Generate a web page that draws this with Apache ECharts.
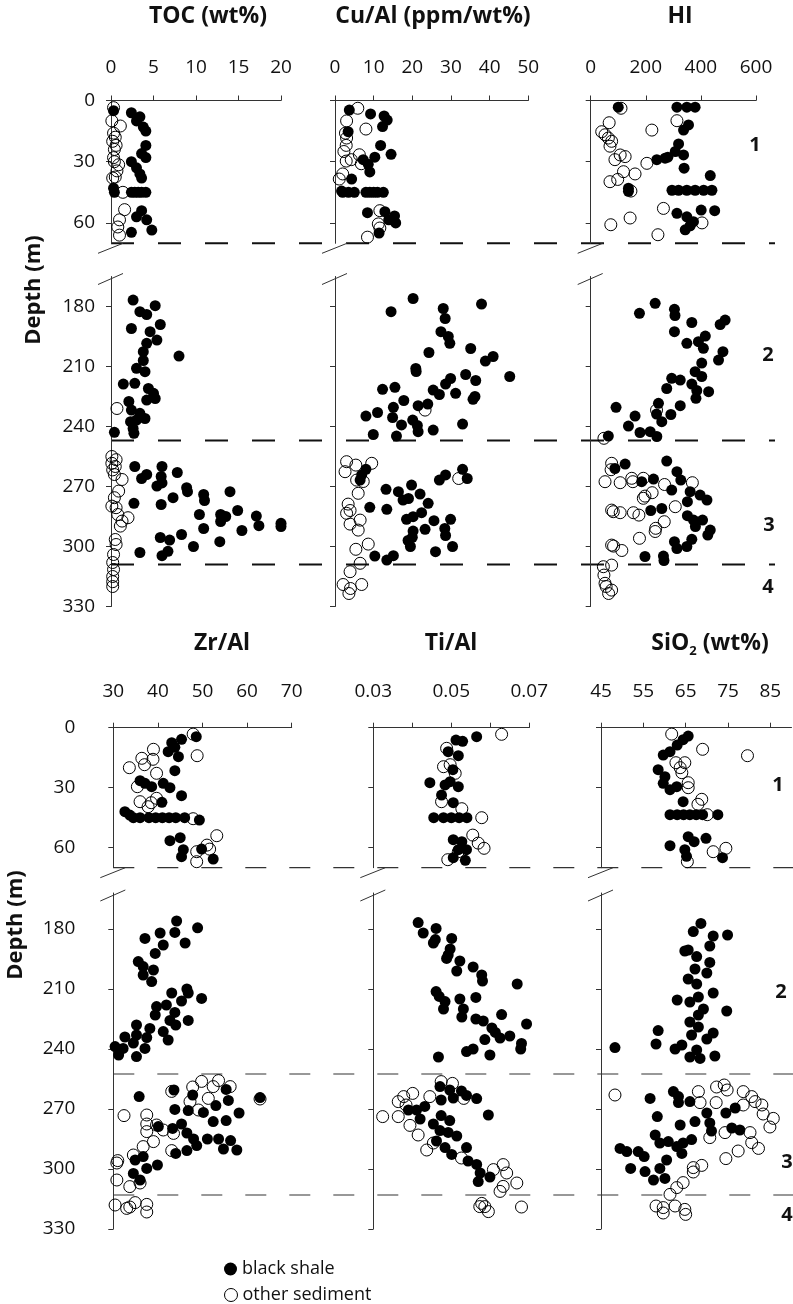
<!DOCTYPE html>
<html><head><meta charset="utf-8">
<script src="https://cdn.jsdelivr.net/npm/echarts@6/dist/echarts.min.js"></script>
<style>html,body{margin:0;padding:0;background:#fff}#c{width:793px;height:1304px}</style>
</head><body><div id="c"></div><script>
// ---------------- DATA: [value, depth (m)] ----------------
const tocShale = [[0.3,5],[2.4,6],[3.4,8],[3.0,10],[3.8,13],[4.1,15],[4.1,22],[3.6,26],[4.1,28],[2.4,30],[3.0,33],[3.4,36],[3.6,38],[0.3,43],[0.4,45],[2.4,45],[2.8,45],[3.2,45],[3.6,45],[4.1,45],[3.6,54],[3.0,57],[4.2,58.5],[4.8,63.5],[2.4,64.6],
[2.6,176.8],[5.2,179.6],[3.4,182.6],[4.2,184],[2.4,191],[5.8,189],[4.6,192.6],[5.4,196.8],[4.2,198.4],[3.8,202.6],[8.0,204.8],[3.8,207],[3.0,210.9],[4.0,212.6],[1.45,218.8],[2.8,218.4],[4.4,221],[5.0,223.4],[5.2,226],[4.2,226.8],[2.1,227.5],[2.4,231.8],[3.4,233.4],[3.0,236.8],[4.0,236],[2.3,237.6],[2.6,241],[2.7,243.4],[0.4,242.9],
[2.8,260],[3.6,266],[4.2,264],[6.0,260],[5.9,265],[6.0,268.2],[5.4,269.8],[7.8,263],[8.9,270.6],[9.0,272.6],[10.9,274],[11.0,277],[14.0,272.6],[7.3,275.6],[2.7,278.4],[5.9,279],[10.4,284],[12.9,284],[13.5,285],[14.9,282],[17.1,284.8],[17.4,289.6],[12.9,287.5],[20.0,288.4],[20.0,290],[15.4,292],[10.9,291],[12.8,297.6],[8.3,294],[5.8,295.5],[6.9,296.8],[9.7,300],[3.4,303],[6.0,304.6],[6.7,302.4]];
const tocOther = [[0.3,3.5],[0.1,10],[1.1,12.5],[0.3,16],[0.5,18],[0.2,20],[0.6,22],[0.4,24],[0.4,30],[0.9,31.5],[0.3,28],[0.7,34.5],[0.5,37.5],[0.2,38],[1.4,45],[1.6,53.5],[1.0,58.5],[0.8,62],[1.0,66],
[0.7,231],[0.1,255],[0.6,256.6],[0.1,258.4],[0.5,260],[0.2,261.7],[0.4,264],[1.3,266.5],[0.9,272.3],[0.4,275.6],[0.1,279.8],[0.6,280.6],[0.8,284],[2.0,285.6],[1.3,287.3],[1.1,289.8],[0.5,296.5],[0.6,299],[0.3,304],[0.2,308],[0.3,311.5],[0.2,315],[0.2,317.6],[0.2,320]];

const cuShale = [[3.7,4.7],[9.2,6.6],[12.7,7.6],[13.5,9.6],[12.3,12.8],[3.4,15.3],[11.8,22],[14.5,26.4],[7.3,29],[10.3,27.8],[8.6,31.3],[9.0,35],[4.3,38.5],[1.7,44.4],[2,45],[3.5,45],[5,45],[8,45],[9,45],[10,45],[11,45],[12.5,45],[8.4,55],[12.9,54.5],[15.4,56.6],[13.9,58.5],[15.7,60],[11.4,65],
[14.5,182.6],[20.2,176],[28.0,181],[37.9,178.8],[28.5,186],[27.4,192.6],[29.3,195],[29.7,198.4],[35.1,201],[24.3,203],[38.9,207.3],[40.9,205],[45.2,215],[20.9,211],[21,212.5],[33.8,214],[36.4,217],[29.9,216],[28.6,218.8],[25.4,221.8],[27.0,224],[31.2,223.4],[35.7,226.4],[36.2,225],[12.3,221.4],[15.5,220.4],[11.0,233],[8.0,234.8],[15.1,230.4],[14.9,235.5],[17.8,227],[21.5,229.6],[24.0,228.8],[17.2,239.2],[20.1,236.8],[21.3,239.5],[21.5,242.6],[25.4,241.8],[33.0,238.8],[9.9,244],[15.9,244.8],
[8.0,261.4],[6.9,264.2],[6.5,266.8],[13.2,271.4],[16.4,272.6],[17.6,276.8],[19.8,269.3],[22.0,273.8],[19.0,276],[24.1,278.4],[28.6,264.2],[27.0,266.8],[33.0,261.4],[34.2,266],[9.0,280.4],[13.4,281.4],[22.4,283.1],[20.2,285.1],[18.5,286.4],[25.6,287.1],[29.9,286.4],[23.3,291.4],[20.2,292.3],[28.4,291],[28.6,294.5],[18.9,297],[20.0,295.4],[19.5,300],[30.4,300],[26.0,302.6],[10.3,304.8],[13.4,306.8],[15.1,304.6]];
const cuOther = [[5.9,3.8],[3.0,10],[8.0,14],[2.7,16],[3.0,18.4],[2.9,22],[2.3,25],[6.3,26.6],[2.9,29.7],[4.2,29],[6.8,31],[2.0,36],[1.1,38.5],[11.6,54],[11.2,60.5],[11.6,62.5],[8.4,67],
[23.3,231.8],[3.0,257.6],[5.4,259.3],[9.5,258.4],[2.6,262.6],[5.6,266.8],[7.3,267.5],[6.0,273.4],[3.4,278.8],[3.0,283.4],[3.9,282],[6.5,286.8],[3.9,288.8],[6.0,291.8],[8.6,298.8],[5.4,301.4],[6.5,308.4],[3.9,312.6],[2.1,319],[6.9,319],[3.6,323.5],[4.0,321],[32.0,266]];

const hiShale = [[100,3.3],[313,3.3],[349,3.3],[379,3.3],[355,12],[337,14.5],[319,21.3],[307,25],[337,26.7],[270,28.3],[240,29],[280,27.8],[339,33.2],[434,36.8],[295,44],[319,44],[349,44],[379,44],[410,44],[440,44],[137,43],[137,44.5],[313,55.3],[349,57],[401,53.7],[450,54],[373,59.4],[343,63.4],[361,61.4],
[177,183.4],[234,178.4],[304,181.4],[306,184.5],[367,188],[488,186.8],[470,189],[304,192.6],[416,194.8],[391,197.6],[349,198.4],[409,200.9],[480,202.6],[464,206.8],[403,208.3],[379,212.6],[403,215],[294,215.9],[325,216.8],[367,218.8],[276,221],[385,222],[428,222.6],[382,225.9],[92,230.4],[246,228.4],[325,229.6],[161,234.8],[239,233.8],[291,234],[258,237.6],[137,239.8],[179,243],[216,242.6],[240,245],[64,244.8],
[125,258.8],[88,261],[276,257.3],[313,262.6],[327,266.8],[228,266.3],[185,267.6],[294,271.8],[361,272.6],[397,274.3],[422,276.8],[351,277.6],[218,282],[258,281],[351,284.6],[373,286.8],[406,286.8],[380,290],[434,291.8],[425,294.3],[367,296.4],[304,297.6],[313,301],[349,300],[197,305],[264,304.8],[266,307]];
const hiOther = [[110,3.8],[67,10.9],[313,9.9],[222,14.5],[40,15.3],[52,16.8],[64,18.4],[76,20],[70,22.4],[107,26.7],[125,27.5],[88,29],[204,30.8],[119,34.9],[161,36],[70,39.8],[98,38.7],[146,44.4],[264,52.9],[143,57.6],[73,60.9],[244,65.8],[404,60],
[48,245.9],[239,231.8],[76,258.4],[74,261.6],[52,267.6],[107,268.1],[149,265.9],[153,267.6],[191,265.9],[268,269],[369,268.1],[223,273.1],[191,275.9],[197,274.8],[307,280.1],[76,281.8],[82,282.6],[107,283.1],[155,283.1],[175,284.3],[267,287.6],[236,290.9],[234,292.5],[177,295.9],[76,299.3],[83,299.8],[113,302],[46,310.1],[76,309.3],[48,314.3],[52,318.4],[56,320],[76,321.8],[65,323.5]];

const zrShale = [[48.6,4.5],[45.3,5.8],[43.1,7.5],[43.8,9.8],[42.3,12],[44.6,14.5],[43.8,21.5],[36.0,26.5],[37.1,27.8],[38.6,29.5],[41.2,27.8],[42.7,30],[45.3,34],[40.9,37.3],[32.6,42],[33.7,43.7],[34.5,45],[36,45],[38,45],[39.5,45],[41,45],[42.5,45],[44,45],[46,45],[49.3,46.2],[42.7,56.5],[45.0,55],[45.7,61],[45.3,64.5],[49.8,60.7],[52.4,65.7],
[44.2,176],[48.9,179.4],[43.8,181.7],[40.5,182],[37.1,184.7],[46.1,187],[41.2,188],[39.4,192.2],[35.6,196.3],[36.7,198.8],[39.0,200.5],[36.7,203],[38.6,206.3],[43.1,212],[46.5,210],[49.8,214.7],[46.8,212],[39.7,218.8],[41.9,218],[45.3,216],[39.4,223],[43.8,221.7],[42.7,225.7],[46.8,225.7],[44.0,228],[35.2,228],[38.2,229.7],[41.2,231.3],[32.6,234],[35.2,233],[37.5,234.3],[42.3,235.5],[30.4,238.8],[32.2,239.7],[31.2,243],[34.5,237],[37.1,239.7],[35.2,243.8],
[35.8,263.8],[43.6,260.5],[47.8,263],[55.3,260.2],[55.8,265.7],[53.0,268.3],[62.9,264.3],[43.8,270.2],[46.8,270.8],[50.2,271.7],[52.4,276.3],[55.3,275.8],[58.2,272],[40.1,278.8],[43.3,279.7],[45.3,277.5],[46.5,282],[48.0,285],[48.7,288.3],[46.5,290.8],[44.0,292.2],[51.1,285],[53.6,285],[54.7,290],[56.3,285.8],[57.7,290.5],[34.9,295.5],[36.7,293.8],[39.9,298],[37.5,299.7],[34.5,302.2],[36.0,305.5]];
const zrOther = [[47.9,3.2],[48.8,14],[39.0,10.8],[36.4,15.3],[38.9,15.8],[33.6,20],[37.0,18.5],[39.7,22.8],[35.4,29.5],[36.0,37],[37.8,39.5],[38.5,37.5],[39.7,35.3],[47.9,45.5],[53.2,54],[51.0,58.7],[51.6,60.7],[48.7,62],[48.7,67],
[32.4,273.3],[37.5,273],[37.5,277.5],[37.5,281.3],[39.7,278],[41.2,280.5],[43.5,282.2],[39.0,286.3],[36.7,288.8],[34.5,293],[43.1,290.8],[43.1,261.2],[47.8,259],[49.8,256.2],[52.4,258.8],[53.6,255.8],[56.2,258.8],[47.2,266.3],[51.3,264.7],[49.1,270.5],[62.9,265],[30.8,297],[31.0,295.8],[30.8,305.5],[33.7,308.8],[36.0,307],[30.4,318],[33.0,319.7],[34.9,316.8],[37.5,317.7],[37.5,321.5],[33.7,319]];

const tiShale = [[0.0565,4.5],[0.0512,6.2],[0.0529,6.8],[0.0492,12],[0.0518,14],[0.0504,21],[0.0445,27.5],[0.0497,27],[0.0518,29.5],[0.0484,28.6],[0.0475,33.7],[0.0505,37.5],[0.0455,45],[0.048,45],[0.050,45],[0.052,45],[0.054,45],[0.0505,56],[0.0527,57],[0.0518,61],[0.0539,61],[0.0505,65],[0.0536,66.3],
[0.0415,176.8],[0.0428,182],[0.0461,179.7],[0.0459,185.3],[0.0454,187],[0.0501,184.7],[0.0497,190],[0.0488,194.7],[0.0522,196],[0.0492,193],[0.0556,199],[0.0514,201],[0.0578,203],[0.0580,206],[0.0669,207.5],[0.0461,211.3],[0.0469,213.7],[0.0484,216.3],[0.048,220],[0.0522,215],[0.0531,220],[0.0527,224],[0.0563,214.2],[0.0563,225],[0.0582,226],[0.0629,222.8],[0.0693,227.5],[0.0604,229.5],[0.0613,231.7],[0.0625,234.5],[0.0650,233.5],[0.0586,235.3],[0.0680,237.2],[0.0678,240],[0.0539,241.3],[0.0556,240],[0.0599,243],[0.0467,244],
[0.0471,258.8],[0.0496,260.5],[0.0474,265.5],[0.0505,264.5],[0.0526,261],[0.0539,263.2],[0.0565,264.8],[0.0595,273],[0.0390,270.5],[0.0411,270.5],[0.0432,268.7],[0.042,275],[0.0454,277.5],[0.0474,273.3],[0.0496,275.8],[0.0471,280.8],[0.0492,281.7],[0.0514,283.5],[0.0462,286],[0.0484,289.3],[0.0501,292.7],[0.0539,289.3],[0.0543,296],[0.0565,297.7],[0.0574,302],[0.0569,306.3],[0.0599,304]];
const tiOther = [[0.0629,3.3],[0.0488,10.3],[0.0480,19.5],[0.0497,18.5],[0.0510,22.8],[0.0475,37],[0.0527,40.5],[0.0578,45],[0.0555,53.7],[0.0569,57.7],[0.0584,60.3],[0.0518,62],[0.0491,66],
[0.0324,273.8],[0.0364,273.8],[0.0364,266.3],[0.0378,263.8],[0.0401,262.2],[0.0384,268],[0.0394,278.2],[0.0415,283],[0.0437,290.5],[0.0445,263.8],[0.0474,256.3],[0.0503,257.2],[0.0532,264.7],[0.0454,287],[0.0526,294.5],[0.0608,300.3],[0.0633,297.8],[0.0642,302],[0.0668,307],[0.0633,308.7],[0.0625,311.2],[0.0578,317.2],[0.0586,318.8],[0.0595,321.3],[0.0573,318.8],[0.0680,319]];

const siShale = [[65.6,4.2],[64.4,6],[63.0,8.7],[61.3,12],[59.7,13.7],[58.5,21],[60.1,24.5],[59.7,27.8],[61.3,31],[62.9,29.5],[64.4,37],[61.3,43.5],[63,43.5],[64.5,43.5],[66,43.5],[67.5,43.5],[69,43.5],[72.6,43.5],[65.6,54.5],[69.8,55.3],[67.0,57],[61.3,59],[64.8,61],[65.2,64.3],[73.7,65],
[68.6,177.2],[66.8,181.3],[74.9,183],[71.5,183.5],[70.7,188.5],[64.8,191],[65.6,190.5],[67.6,193.8],[70.7,196.7],[70.0,202],[67.2,200],[65.6,205],[67.6,207.5],[71.5,212],[63.0,215.5],[66.0,216.5],[68.0,214],[69.2,220],[74.7,221],[68.0,223],[66.0,226.5],[68.0,229],[71.5,232],[58.5,230.8],[66.4,233],[70.0,235],[58.0,237.5],[48.3,239.3],[62.5,240],[64.1,238],[66.0,244],[68.4,244.7],[71.9,243.5],[67.6,240.5],
[56.6,264.7],[62.1,261.3],[63.3,263.8],[66.0,266.3],[63.3,266.8],[58.3,273.8],[63.7,278],[67.2,276.3],[70.0,272],[70.7,277],[71.1,281],[74.5,272],[76.7,269.5],[75.9,279.5],[77.8,280.5],[57.8,283],[58.9,287],[60.9,286.3],[62.9,288.8],[64.4,287],[66.4,285.3],[49.5,289.7],[51.1,291.3],[53.8,291.3],[55.2,293.8],[64.1,292.2],[52.0,299.7],[55.4,301.3],[57.4,305.5],[58.9,299.7],[60.5,295.5],[60.1,304.7]];
const siOther = [[61.7,3.2],[69.0,10.8],[79.6,14],[62.7,17.5],[63.7,20],[64.8,17.5],[64.1,22.5],[65.6,27.5],[65.6,30],[68.8,35.8],[67.9,38.3],[70.1,43.5],[71.5,62],[74.5,60.3],[65.4,67],
[48.3,263],[68.0,261.3],[68.4,266.8],[72.2,266.8],[72.3,259],[74.1,258],[74.8,260.5],[78.6,261.3],[80.6,263.8],[81.4,266.3],[78.6,268],[83.0,268],[83.3,272.5],[85.7,274.7],[84.9,279],[70.7,284.3],[74.3,281.8],[80.2,281.8],[80.6,286.8],[82.2,289.7],[77.4,291],[74.5,294.8],[68.8,298.2],[66.8,299.3],[66.8,301.5],[64.4,306.8],[62.9,309.3],[61.3,312.7],[58.0,318.5],[59.7,319.3],[59.7,322],[62.5,318.5],[64.8,320.2],[65.0,322.7]];

// tick values / labels
const tocTicks = [0,5,10,15,20];
const cuTicks = [0,10,20,30,40,50];
const hiTicks = [0,200,400,600];
const zrTicks = [30,40,50,60,70];
const tiTicks = [0.03,0.04,0.05,0.06,0.07];
const tiLabels = [0.03,0.05,0.07];
const siTicks = [45,55,65,75,85];
const upperDepthTicks = [0,30,60];
const lowerDepthTicks = [180,210,240,270,300,330];
// unit boundaries (dashed lines), depth in m
const topBounds = [70,247,309];
const bottomBounds = [70,252.5,313];
const seriesNames = ['black shale','other sediment'];

// ---------------- LAYOUT ----------------
const FONT = "'Open Sans', sans-serif";
const halves = [
  {uTop:100.5,uH:142.8,uMax:70,lTop:276.5,lH:330,lMin:165,xMargin:23,yMargin:16,bounds:topBounds,lineEnd:775,dashW:2,dash:[23,24],dashColor:'#111'},
  {uTop:727.7,uH:140,uMax:70,lTop:893,lH:336,lMin:162,xMargin:27,yMargin:38,bounds:bottomBounds,lineEnd:793,dashW:1.2,dash:[21,23],dashColor:'#333'}
];
const panels = [
  {half:0,left:111,width:170,min:0,max:20,ticks:tocTicks,labels:tocTicks,shale:tocShale,other:tocOther},
  {half:0,left:335,width:193.3,min:0,max:50,ticks:cuTicks,labels:cuTicks,shale:cuShale,other:cuOther},
  {half:0,left:590.7,width:165.3,min:0,max:600,ticks:hiTicks,labels:hiTicks,shale:hiShale,other:hiOther},
  {half:1,left:113.3,width:178.4,min:30,max:70,ticks:zrTicks,labels:zrTicks,shale:zrShale,other:zrOther},
  {half:1,left:373.3,width:156,min:0.03,max:0.07,ticks:tiTicks,labels:tiLabels,shale:tiShale,other:tiOther},
  {half:1,left:601,width:190.5,min:45,max:90,ticks:siTicks,labels:siTicks,shale:siShale,other:siOther}
];
const AX = '#333';
const FILLED = {color:'#000',opacity:1};
const OPEN = {color:'rgba(255,255,255,0)',borderColor:'#000',borderWidth:1,opacity:1};
const grid=[], xAxis=[], yAxis=[], series=[];
panels.forEach((p,i)=>{
  const h = halves[p.half];
  [0,1].forEach(s=>{
    const g = i*2+s;
    grid.push({left:p.left,width:p.width,top:s?h.lTop:h.uTop,height:s?h.lH:h.uH,containLabel:false});
    xAxis.push({gridIndex:g,type:'value',min:p.min,max:p.max,position:'top',show:s===0,
      axisLine:{show:true,onZero:false,lineStyle:{color:AX,width:1}},
      axisTick:{show:true,customValues:p.ticks,length:5,lineStyle:{color:AX}},
      axisLabel:{customValues:p.labels,margin:h.xMargin,fontSize:19,color:'#111',fontFamily:FONT},
      splitLine:{show:false}});
    const yt = s?lowerDepthTicks:upperDepthTicks;
    yAxis.push({gridIndex:g,type:'value',inverse:true,min:s?h.lMin:0,max:s?330:h.uMax,
      axisLine:{show:true,onZero:false,lineStyle:{color:AX,width:1}},
      axisTick:{show:true,customValues:yt,length:5,lineStyle:{color:AX}},
      axisLabel:{show:i%3===0,customValues:yt,margin:h.yMargin,fontSize:19,color:'#111',fontFamily:FONT},
      splitLine:{show:false}});
    const inSeg = d => s ? d[1] > 100 : d[1] <= 100;
    series.push({name:seriesNames[0],type:'scatter',xAxisIndex:g,yAxisIndex:g,clip:false,symbol:'circle',symbolSize:11,
      itemStyle:FILLED,data:p.shale.filter(inSeg),z:2});
    series.push({name:seriesNames[1],type:'scatter',xAxisIndex:g,yAxisIndex:g,clip:false,symbol:'circle',symbolSize:12,
      itemStyle:OPEN,data:p.other.filter(inSeg),z:3});
  });
});

const legendBase = {orient:'horizontal',left:219,itemWidth:13,itemHeight:13,icon:'circle',
  textStyle:{fontSize:18,color:'#111',fontFamily:FONT}};
const chart = echarts.init(document.getElementById('c'),null,{renderer:'canvas'});
chart.setOption({
  animation:false, backgroundColor:'#fff',
  grid, xAxis, yAxis, series,
  legend:[
    Object.assign({},legendBase,{top:1255,data:[{name:seriesNames[0],itemStyle:FILLED}]}),
    Object.assign({},legendBase,{top:1281,data:[{name:seriesNames[1],itemStyle:OPEN}]})
  ]
});

// ---------------- DECORATIONS (positions via library scales) ----------------
const gfx = [];
halves.forEach((h,hi)=>{
  const fi = panels.findIndex(p=>p.half===hi);
  const p0 = panels[fi];
  h.bounds.forEach(d=>{
    const g = fi*2 + (d <= h.uMax ? 0 : 1);
    const pt = chart.convertToPixel({gridIndex:g},[p0.min,d]);
    gfx.push({type:'line',silent:true,shape:{x1:pt[0],y1:pt[1],x2:h.lineEnd,y2:pt[1]},
      style:{stroke:h.dashColor,lineWidth:h.dashW,lineDash:h.dash}});
  });
});
panels.forEach((p,i)=>{
  const h = halves[p.half];
  const b = chart.convertToPixel({gridIndex:i*2},[p.min,h.uMax]);
  const t = chart.convertToPixel({gridIndex:i*2+1},[p.min,h.lMin]);
  const ax = b[0];
  gfx.push({type:'line',silent:true,shape:{x1:ax-13,y1:b[1]+10,x2:ax+12,y2:b[1]},style:{stroke:AX,lineWidth:1}});
  gfx.push({type:'line',silent:true,shape:{x1:ax-13,y1:t[1]+8,x2:ax+12,y2:t[1]-3},style:{stroke:AX,lineWidth:1}});
});
const bold = {fontFamily:FONT,fontWeight:'bold',fill:'#111'};
const txt = (text,x,y,size,extra)=>Object.assign({type:'text',silent:true,x,y,
  style:Object.assign({text,fontSize:size,align:'center',verticalAlign:'middle'},bold)},extra||{});
gfx.push(txt('TOC (wt%)',208,16,23));
gfx.push(txt('Cu/Al (ppm/wt%)',433,16,23));
gfx.push(txt('HI',680,16,23));
gfx.push(txt('Zr/Al',222,643,23));
gfx.push(txt('Ti/Al',451,643,23));
gfx.push({type:'text',silent:true,x:710,y:643,style:{text:'{a|SiO}{s|2}{a| (wt%)}',align:'center',verticalAlign:'middle',
  rich:{a:{fontSize:23,fontWeight:'bold',fontFamily:FONT,fill:'#111',lineHeight:30},
        s:{fontSize:13,fontWeight:'bold',fontFamily:FONT,fill:'#111',lineHeight:30,verticalAlign:'bottom',padding:[12,0,0,0]}}}});
gfx.push(txt('Depth (m)',34,290,22,{rotation:Math.PI/2}));
gfx.push(txt('Depth (m)',16,925,22,{rotation:Math.PI/2}));
[['1',755,145],['2',768,355],['3',769,525],['4',768,587],['1',778,785],['2',781,992],['3',787,1162],['4',787,1215]]
  .forEach(r=>gfx.push(txt(r[0],r[1],r[2],20)));
chart.setOption({graphic:gfx});
</script></body></html>
